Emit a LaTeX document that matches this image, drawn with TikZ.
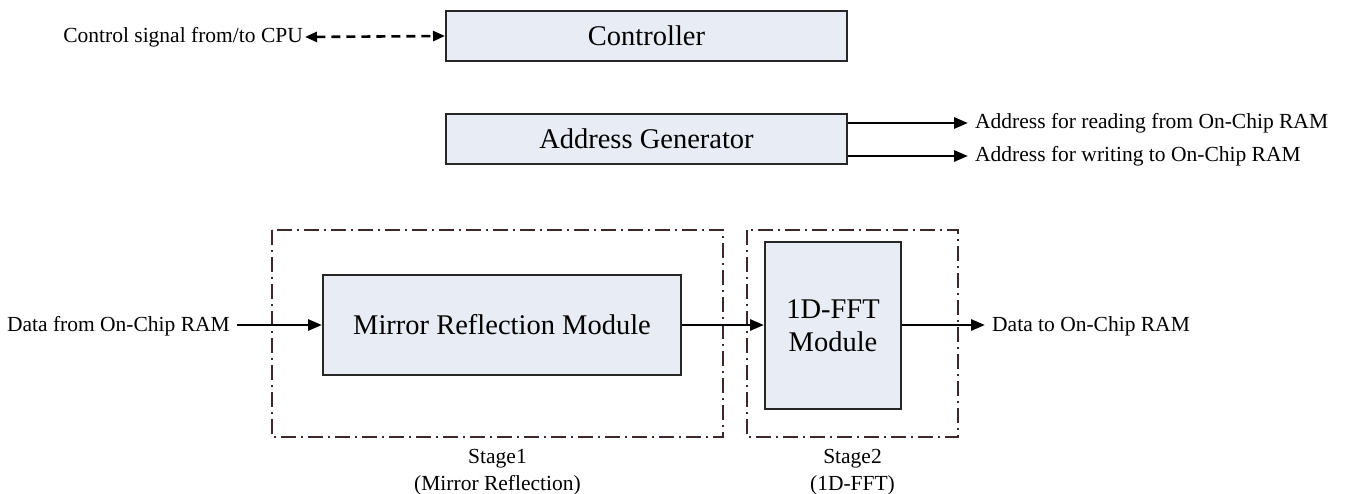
\documentclass[tikz,border=0pt]{standalone}
\usepackage{fontspec}
\setmainfont{Liberation Serif}
\usetikzlibrary{arrows.meta}
\definecolor{boxfill}{RGB}{232,236,245}
\definecolor{stageline}{RGB}{60,40,40}
\tikzset{
  block/.style={draw=black!85, line width=2pt, fill=boxfill, inner sep=0pt,
    font=\fontsize{28.5}{33}\selectfont, align=center},
  lbl/.style={font=\fontsize{21.5}{27}\selectfont, inner sep=0pt, align=center},
  flow/.style={line width=2.8pt, -{Triangle[length=14pt,width=11pt]}},
  ctrl/.style={line width=2.6pt, dash pattern=on 9pt off 6pt,
    {Triangle[length=12pt,width=10pt]}-{Triangle[length=12pt,width=10pt]}},
  stagebox/.style={draw=stageline, line width=1.6pt,
    dash pattern=on 15pt off 5pt on 2pt off 5pt}
}
\begin{document}
\begin{tikzpicture}[x=1pt,y=-1pt]
\useasboundingbox (0,0) rectangle (1346,494);

% stage frames
\draw[stagebox] (272,230) rectangle (723,437);
\draw[stagebox] (747,230) rectangle (958,437);

% top blocks
\node[block, minimum width=401pt, minimum height=50pt] (ctl) at (646.5,36) {Controller};
\node[block, minimum width=401pt, minimum height=50pt] (agen) at (646.5,139) {Address Generator};

% datapath blocks
\node[block, minimum width=358pt, minimum height=100pt] (mirror) at (502,325) {Mirror Reflection Module};
\node[block, minimum width=136pt, minimum height=167pt] (fft) at (833,325.5) {1D-FFT\\Module};

% labels
\node[lbl, anchor=east] (cpu) at (303,37) {Control signal from/to CPU};
\node[lbl, anchor=west] (rdaddr) at (975,123) {Address for reading from On-Chip RAM};
\node[lbl, anchor=west] (wraddr) at (975,156) {Address for writing to On-Chip RAM};
\node[lbl, anchor=east] (din) at (230,326) {Data from On-Chip RAM};
\node[lbl, anchor=west] (dout) at (992,326) {Data to On-Chip RAM};
\node[lbl] (s1) at (497.5,472) {Stage1\\(Mirror Reflection)};
\node[lbl] (s2) at (852.5,472) {Stage2\\(1D-FFT)};

% helper points for the address outputs
\coordinate (ra0) at (agen.east |- rdaddr.west);
\coordinate (wa0) at (agen.east |- wraddr.west);

% connectors
\draw[ctrl] ([xshift=2pt]cpu.east) -- (ctl.west);
\draw[flow] (ra0) -- ([xshift=-7pt]rdaddr.west);
\draw[flow] (wa0) -- ([xshift=-7pt]wraddr.west);
\draw[flow] ([xshift=7pt]din.east |- mirror.west) -- (mirror.west);
\draw[flow] (mirror.east) -- (fft.west |- mirror.east);
\draw[flow] (fft.east |- mirror.east) -- ([xshift=-7pt]dout.west |- mirror.east);
\end{tikzpicture}
\end{document}
